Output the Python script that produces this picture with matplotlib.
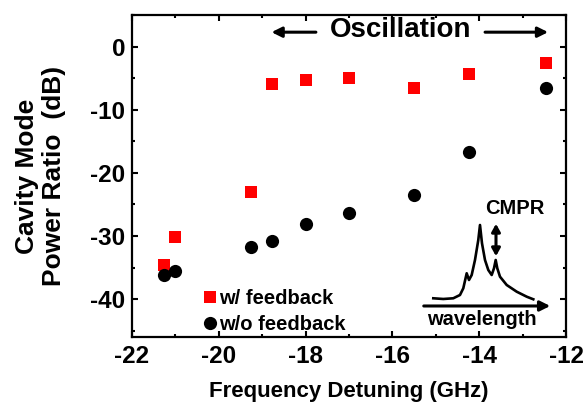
import matplotlib
matplotlib.use('Agg')
import matplotlib.pyplot as plt
from matplotlib.ticker import MultipleLocator

plt.rcParams['font.family'] = ['Liberation Sans', 'DejaVu Sans']
plt.rcParams['font.weight'] = 'bold'
plt.rcParams['axes.unicode_minus'] = False

# detuning (GHz) and cavity mode power ratio (dB)
detuning = [-21.27, -21.02, -19.26, -18.77, -18.0, -17.0, -15.5, -14.23, -12.47]
cmpr_fb = [-34.6, -30.1, -23.0, -5.9, -5.3, -5.0, -6.6, -4.25, -2.6]
cmpr_nofb = [-36.2, -35.5, -31.8, -30.8, -28.1, -26.4, -23.5, -16.7, -6.6]

# sketch of the optical spectrum in the inset (arbitrary units)
spec_wl = [13.3, 23.3, 33.3, 40, 43.3, 46.7, 49, 51.7, 55, 58.3, 60, 62, 65,
           68.3, 71.7, 74, 75.7, 77.3, 80, 86.7, 96.7, 106.7, 113.3]
spec_int = [31.7, 31, 31.7, 35, 41.7, 56.7, 50, 55, 70, 90, 105, 86.7, 70,
            60, 55, 61.7, 70, 61.7, 53.3, 45, 38.3, 33.3, 30.7]

fig = plt.figure(figsize=(5.86, 4.09), dpi=100)
ax = fig.add_axes([0.2253, 0.176, 0.7407, 0.787])

ax.plot(detuning, cmpr_fb, 's', color='#ff0000', markersize=8.6, markeredgewidth=0,
        label='w/ feedback')
ax.plot(detuning, cmpr_nofb, 'o', color='black', markersize=9.5, markeredgewidth=0,
        label='w/o feedback')

ax.set_xlim(-22, -12)
ax.set_ylim(-46, 5)
ax.xaxis.set_major_locator(MultipleLocator(2))
ax.xaxis.set_minor_locator(MultipleLocator(1))
ax.yaxis.set_major_locator(MultipleLocator(10))
ax.yaxis.set_minor_locator(MultipleLocator(5))
ax.tick_params(which='both', direction='in', top=True, right=True, width=1.5,
               labelsize=17.5)
ax.tick_params(axis='x', pad=6)
ax.tick_params(axis='y', pad=5)
ax.tick_params(which='major', length=4)
ax.tick_params(which='minor', length=2.5)
for s in ax.spines.values():
    s.set_linewidth(1.6)

ax.set_xlabel('Frequency Detuning (GHz)', fontsize=16, fontweight='bold', labelpad=9)
ax.set_ylabel('Cavity Mode\nPower Ratio  (dB)', fontsize=19, fontweight='bold',
              labelpad=17)

# oscillation region marker
ax.text(-15.82, 2.7, 'Oscillation', fontsize=20, fontweight='bold',
        ha='center', va='center')
ax.annotate('', xy=(-18.85, 2.3), xytext=(-17.7, 2.3),
            arrowprops=dict(arrowstyle='-|>,head_length=0.6,head_width=0.3',
                            color='black', lw=2.2))
ax.annotate('', xy=(-12.35, 2.3), xytext=(-13.93, 2.3),
            arrowprops=dict(arrowstyle='-|>,head_length=0.6,head_width=0.3',
                            color='black', lw=2.2))

leg = ax.legend(loc='lower left', bbox_to_anchor=(0.137, -0.027), frameon=False,
                fontsize=14.5, handlelength=0.6, handletextpad=0.15,
                labelspacing=0.35, borderaxespad=0.2)

# inset spectrum
ins = fig.add_axes([0.7167, 0.1932, 0.2304, 0.3178])
ins.set_xlim(0, 135)
ins.set_ylim(0, 130)
ins.axis('off')
ins.patch.set_alpha(0)
ins.plot(spec_wl, spec_int, color='black', lw=1.9)
ins.annotate('', xy=(133, 24), xytext=(1, 24),
             arrowprops=dict(arrowstyle='-|>,head_length=0.6,head_width=0.3',
                             color='black', lw=2.2))
ins.text(62, 10, 'wavelength', fontsize=14.5, fontweight='bold',
         ha='center', va='center')
ins.text(95, 121, 'CMPR', fontsize=14.5, fontweight='bold',
         ha='center', va='center')
ins.annotate('', xy=(76, 109), xytext=(76, 71),
             arrowprops=dict(arrowstyle='<|-|>,head_length=0.45,head_width=0.25',
                             color='black', lw=2.2))

fig.savefig('out.png', dpi=100)
